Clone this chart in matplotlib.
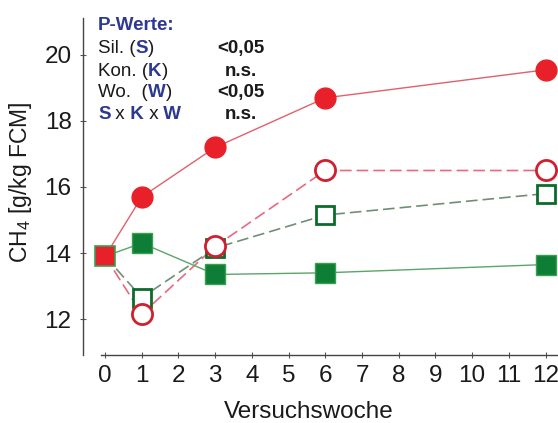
import matplotlib.pyplot as plt

plt.rcParams['font.family'] = ['Liberation Sans', 'DejaVu Sans']
plt.rcParams['mathtext.fontset'] = 'custom'
plt.rcParams['mathtext.rm'] = 'Liberation Sans'
plt.rcParams['mathtext.it'] = 'Liberation Sans:italic'

# Data
weeks = [0, 1, 3, 6, 12]
red_filled = [13.9, 15.7, 17.2, 18.7, 19.55]
red_open = [13.9, 12.15, 14.2, 16.5, 16.5]
green_filled = [13.9, 14.3, 13.35, 13.4, 13.65]
green_open = [13.9, 12.65, 14.15, 15.15, 15.8]

xticks = list(range(13))
yticks = [12, 14, 16, 18, 20]

p_rows = [
    [("Sil. (", "k"), ("S", "b"), (")", "k")],
    [("Kon. (", "k"), ("K", "b"), (")", "k")],
    [("Wo.  (", "k"), ("W", "b"), (")", "k")],
    [("S", "b"), (" x", "k"), (" K", "b"), (" x", "k"), (" W", "b")],
]
p_values = ["<0,05", "n.s.", "<0,05", "n.s."]

W, H = 558, 423
fig = plt.figure(figsize=(W / 100, H / 100), dpi=100)
ax = fig.add_axes([82.7 / W, 68 / H, (W - 82.7) / W, (355 - 18) / H])

navy = '#2b3990'
txt = '#1a1a1a'

# lines + markers
ax.plot(weeks, green_open, color='#6f8f77', lw=1.2, dashes=(7, 3), zorder=2)
ax.plot(weeks, red_open, color='#e86a80', lw=1.2, dashes=(7, 3), zorder=2)
ax.plot(weeks, green_filled, color='#5aa56a', lw=1.0, zorder=2)
ax.plot(weeks, red_filled, color='#e0606e', lw=1.0, zorder=2)

ax.plot(weeks[1:], green_open[1:], ls='none', marker='s', ms=13,
        mfc='white', mec='#0b6b2b', mew=2, zorder=3)
ax.plot(weeks[1:], red_open[1:], ls='none', marker='o', ms=14.5,
        mfc='white', mec='#d11f2f', mew=2, zorder=4)
ax.plot(weeks[1:], green_filled[1:], ls='none', marker='s', ms=14.5,
        mfc='#0e7e36', mec='#3aa050', mew=1, zorder=5)
ax.plot(weeks[1:], red_filled[1:], ls='none', marker='o', ms=15,
        mfc='#e8202a', mec='#e8202a', mew=1, zorder=6)
# shared start point
ax.plot(weeks[0], red_filled[0], ls='none', marker='s', ms=15,
        mfc='#e8202a', mec='#3aa050', mew=1.2, zorder=7)

ax.set_xlim(-0.61, 12.34)
ax.set_ylim(10.91, 21.12)
ax.set_xticks(xticks)
ax.set_yticks(yticks)
for s in ['top', 'right']:
    ax.spines[s].set_visible(False)
for s in ['left', 'bottom']:
    ax.spines[s].set_color('#444444')
    ax.spines[s].set_linewidth(1.0)
ax.spines['bottom'].set_bounds(-0.1, 12.34)
ax.tick_params(direction='inout', length=4, width=0.8, color='#555555',
               labelsize=17.5, labelcolor=txt)
ax.tick_params(axis='y', pad=6)
ax.tick_params(axis='x', pad=5)

fig.text(21 / W, 1 - 182 / H, 'CH$_4$ [g/kg FCM]', rotation=90,
         ha='center', va='center', fontsize=16.5, color=txt)
fig.text(309 / W, 1 - 412 / H, 'Versuchswoche', ha='center', va='center',
         fontsize=17.5, color=txt)

# P-value block
fs = 13.5
fig.text(98 / W, 1 - 30 / H, 'P-Werte:', fontsize=fs, fontweight='bold',
         color=navy, va='baseline')
baselines = [53.3, 75.5, 97.3, 119.3]
for row, val, yb in zip(p_rows, p_values, baselines):
    prev = None
    for piece, kind in row:
        color = navy if kind == 'b' else txt
        weight = 'bold' if kind == 'b' else 'normal'
        if prev is None:
            prev = fig.text(98 / W, 1 - yb / H, piece, fontsize=fs,
                            color=color, fontweight=weight, va='baseline')
        else:
            prev = ax.annotate(piece, xy=(1, 0), xycoords=prev, fontsize=fs,
                               color=color, fontweight=weight,
                               va='bottom', ha='left')
    fig.text(241 / W, 1 - yb / H, val, fontsize=fs, fontweight='bold',
             color=txt, ha='center', va='baseline')

fig.savefig('out.png', dpi=100)
